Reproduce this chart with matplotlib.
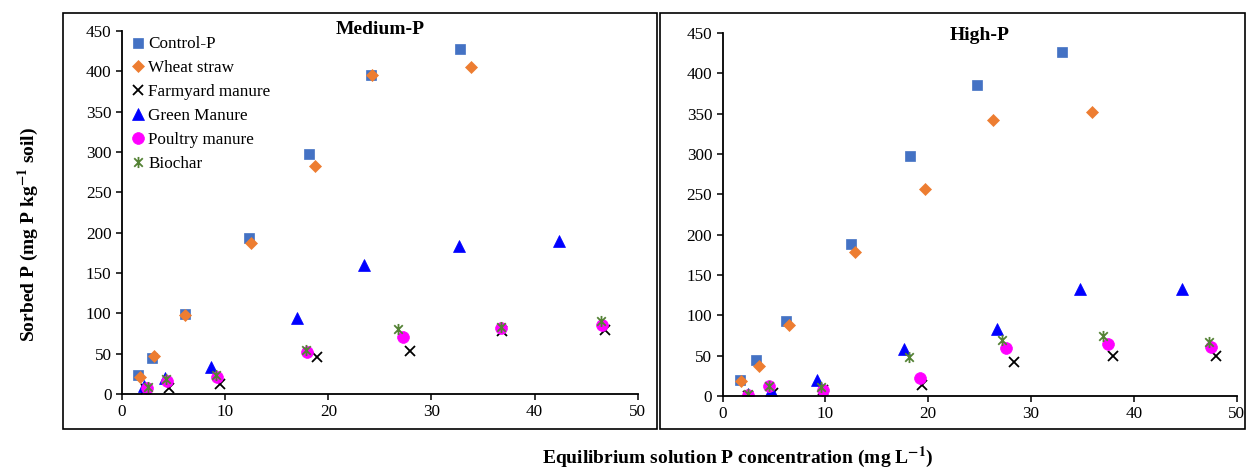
import matplotlib.pyplot as plt
from matplotlib.path import Path
from matplotlib.patches import Rectangle

plt.rcParams["font.family"] = ["Liberation Serif", "DejaVu Serif"]
plt.rcParams["mathtext.fontset"] = "stix"

# ---- data: equilibrium P (mg/L) vs sorbed P (mg/kg) ----
treatments = ["Control-P", "Wheat straw", "Farmyard manure",
              "Green Manure", "Poultry manure", "Biochar"]

med_x = {
    "Control-P":       [1.6, 2.9, 6.1, 12.3, 18.1, 24.1, 32.8],
    "Wheat straw":     [1.7, 3.1, 6.1, 12.5, 18.7, 24.2, 33.8],
    "Farmyard manure": [2.3, 4.6, 9.5, 18.9, 27.9, 36.8, 46.8],
    "Green Manure":    [2.1, 4.2, 8.6, 17.0, 23.5, 32.7, 42.4],
    "Poultry manure":  [2.4, 4.4, 9.2, 17.9, 27.2, 36.7, 46.5],
    "Biochar":         [2.5, 4.3, 9.1, 17.8, 26.8, 36.7, 46.4],
}
med_y = {
    "Control-P":       [23, 44, 99, 193, 298, 396, 428],
    "Wheat straw":     [21, 47, 98, 187, 282, 395, 405],
    "Farmyard manure": [6, 8, 12, 46, 53, 78, 79],
    "Green Manure":    [10, 20, 34, 94, 160, 183, 189],
    "Poultry manure":  [7, 16, 21, 52, 70, 82, 86],
    "Biochar":         [9, 18, 24, 55, 80, 83, 90],
}

high_x = {
    "Control-P":       [1.7, 3.2, 6.2, 12.5, 18.2, 24.7, 33.0],
    "Wheat straw":     [1.8, 3.5, 6.5, 12.9, 19.7, 26.3, 35.9],
    "Farmyard manure": [2.5, 4.9, 9.8, 19.4, 28.3, 38.0, 48.0],
    "Green Manure":    [2.5, 4.7, 9.2, 17.6, 26.7, 34.8, 44.7],
    "Poultry manure":  [2.5, 4.5, 9.8, 19.2, 27.6, 37.5, 47.5],
    "Biochar":         [2.5, 4.5, 9.6, 18.1, 27.2, 37.0, 47.3],
}
high_y = {
    "Control-P":       [20, 44, 93, 188, 297, 385, 427],
    "Wheat straw":     [19, 37, 88, 178, 256, 342, 352],
    "Farmyard manure": [0, 4, 7, 14, 42, 50, 50],
    "Green Manure":    [2, 7, 20, 58, 83, 133, 133],
    "Poultry manure":  [1, 12, 7, 22, 60, 64, 61],
    "Biochar":         [2, 12, 11, 48, 70, 74, 67],
}

# Excel-style star: an x with a vertical stroke
star = Path([(-1, -1), (1, 1), (-1, 1), (1, -1), (0, -1.3), (0, 1.3)],
            [Path.MOVETO, Path.LINETO, Path.MOVETO, Path.LINETO,
             Path.MOVETO, Path.LINETO])

styles = {
    "Control-P":       dict(marker="s", color="#4472C4", ms=7),
    "Wheat straw":     dict(marker="D", color="#ED7D31", ms=6.3),
    "Farmyard manure": dict(marker="x", color="black", ms=7, mew=1.3),
    "Green Manure":    dict(marker="^", color="#0000FF", ms=8),
    "Poultry manure":  dict(marker="o", color="#FF00FF", ms=8.5),
    "Biochar":         dict(marker=star, color="#548235", ms=8, mew=1.3),
}

fig = plt.figure(figsize=(12.46, 4.69), dpi=100)
ax1 = fig.add_axes([0.0979, 0.160, 0.414, 0.774])
ax2 = fig.add_axes([0.580, 0.1557, 0.4125, 0.774])

for ax, xs, ys, title, ty in [(ax1, med_x, med_y, "Medium-P", 1.003),
                              (ax2, high_x, high_y, "High-P", 0.994)]:
    for t in treatments:
        st = styles[t]
        ax.plot(xs[t], ys[t], linestyle="none", marker=st["marker"],
                color=st["color"], markersize=st["ms"],
                markeredgewidth=st.get("mew", 0.5), label=t)
    ax.set_xlim(0, 50)
    ax.set_ylim(0, 450)
    ax.set_xticks(range(0, 51, 10))
    ax.set_yticks(range(0, 451, 50))
    ax.spines["top"].set_visible(False)
    ax.spines["right"].set_visible(False)
    ax.spines["left"].set_linewidth(1.3)
    ax.spines["bottom"].set_linewidth(1.3)
    ax.tick_params(labelsize=12.3, direction="out", length=4, width=1.1)
    ax.text(0.5, ty, title, transform=ax.transAxes, ha="center",
            va="center", fontsize=14, fontweight="bold")

ax1.legend(loc="upper left", bbox_to_anchor=(0.0, 1.013), frameon=False,
           fontsize=12.3, handlelength=0.7, handletextpad=0.25,
           labelspacing=0.46, borderaxespad=0.2)

# boxes round each panel
fig.patches.append(Rectangle((63 / 1246, 1 - 429 / 469), 594 / 1246, 416 / 469,
                             transform=fig.transFigure, fill=False,
                             edgecolor="black", linewidth=1.2))
fig.patches.append(Rectangle((660 / 1246, 1 - 429 / 469), 585 / 1246, 416 / 469,
                             transform=fig.transFigure, fill=False,
                             edgecolor="black", linewidth=1.2))

fig.text(0.023, 0.5, r"Sorbed P (mg P kg$\mathbf{^{-1}}$ soil)", rotation=90,
         ha="center", va="center", fontsize=14, fontweight="bold")
fig.text(0.592, 0.025, r"Equilibrium solution P concentration (mg L$\mathbf{^{-1}}$)",
         ha="center", va="center", fontsize=14, fontweight="bold")

fig.savefig("out.png", dpi=100)
